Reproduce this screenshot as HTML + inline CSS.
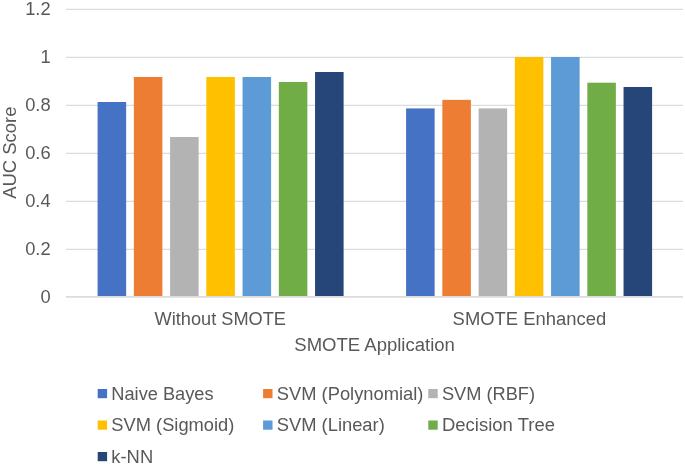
<!DOCTYPE html>
<html><head><meta charset="utf-8"><title>AUC Score chart</title>
<style>
html,body{margin:0;padding:0;background:#fff;overflow:hidden}
svg{display:block;will-change:transform}
text{font-family:"Liberation Sans",Arial,sans-serif;font-size:18.667px;fill:#595959;}
</style></head><body>
<svg width="685" height="464" viewBox="0 0 685 464">
<defs><filter id="soft" x="-2%" y="-2%" width="104%" height="104%"><feGaussianBlur stdDeviation="0.35"/></filter></defs>
<g filter="url(#soft)">

<line x1="66.0" x2="683.0" y1="249.4" y2="249.4" stroke="#DCDCDC" stroke-width="1.1"/>
<line x1="66.0" x2="683.0" y1="201.4" y2="201.4" stroke="#DCDCDC" stroke-width="1.1"/>
<line x1="66.0" x2="683.0" y1="153.4" y2="153.4" stroke="#DCDCDC" stroke-width="1.1"/>
<line x1="66.0" x2="683.0" y1="105.4" y2="105.4" stroke="#DCDCDC" stroke-width="1.1"/>
<line x1="66.0" x2="683.0" y1="57.4" y2="57.4" stroke="#DCDCDC" stroke-width="1.1"/>
<line x1="66.0" x2="683.0" y1="9.4" y2="9.4" stroke="#DCDCDC" stroke-width="1.1"/>
<rect x="97.60" y="102.00" width="28.54" height="194.40" fill="#4472C4"/>
<rect x="133.84" y="76.99" width="28.54" height="219.41" fill="#ED7D31"/>
<rect x="170.09" y="136.99" width="28.54" height="159.41" fill="#B3B3B3"/>
<rect x="206.33" y="76.99" width="28.54" height="219.41" fill="#FFC000"/>
<rect x="242.57" y="76.99" width="28.54" height="219.41" fill="#5B9BD5"/>
<rect x="278.82" y="82.01" width="28.54" height="214.39" fill="#70AD47"/>
<rect x="315.06" y="72.00" width="28.54" height="224.40" fill="#264478"/>
<rect x="406.10" y="108.43" width="28.54" height="187.97" fill="#4472C4"/>
<rect x="442.34" y="99.86" width="28.54" height="196.54" fill="#ED7D31"/>
<rect x="478.59" y="108.43" width="28.54" height="187.97" fill="#B3B3B3"/>
<rect x="514.83" y="57.00" width="28.54" height="239.40" fill="#FFC000"/>
<rect x="551.07" y="57.00" width="28.54" height="239.40" fill="#5B9BD5"/>
<rect x="587.32" y="82.70" width="28.54" height="213.70" fill="#70AD47"/>
<rect x="623.56" y="87.00" width="28.54" height="209.40" fill="#264478"/>
<line x1="66.0" x2="683.0" y1="296.9" y2="296.9" stroke="#DCDCDC" stroke-width="1.6"/>
<text transform="translate(50.60,303.40) scale(0.98,1)" text-anchor="end">0</text>
<text transform="translate(50.60,255.40) scale(0.98,1)" text-anchor="end">0.2</text>
<text transform="translate(50.60,207.40) scale(0.98,1)" text-anchor="end">0.4</text>
<text transform="translate(50.60,159.40) scale(0.98,1)" text-anchor="end">0.6</text>
<text transform="translate(50.60,111.40) scale(0.98,1)" text-anchor="end">0.8</text>
<text transform="translate(50.60,63.40) scale(0.98,1)" text-anchor="end">1</text>
<text transform="translate(50.60,15.40) scale(0.98,1)" text-anchor="end">1.2</text>
<text transform="translate(16.00,152.70) rotate(-90) scale(0.988,1)" text-anchor="middle">AUC Score</text>
<text transform="translate(220.25,324.70) scale(0.975,1)" text-anchor="middle">Without SMOTE</text>
<text transform="translate(529.40,324.70) scale(0.987,1)" text-anchor="middle">SMOTE Enhanced</text>
<text transform="translate(374.60,351.00) scale(0.993,1)" text-anchor="middle">SMOTE Application</text>
<rect x="97.7" y="389" width="9.4" height="9.2" fill="#4472C4"/>
<text transform="translate(111.30,399.80) scale(0.977,1)" text-anchor="start">Naive Bayes</text>
<rect x="263.1" y="389" width="9.4" height="9.2" fill="#ED7D31"/>
<text transform="translate(276.70,399.80) scale(0.983,1)" text-anchor="start">SVM (Polynomial)</text>
<rect x="428.3" y="389" width="9.4" height="9.2" fill="#B3B3B3"/>
<text transform="translate(441.90,399.80) scale(0.977,1)" text-anchor="start">SVM (RBF)</text>
<rect x="97.7" y="420.5" width="9.4" height="9.2" fill="#FFC000"/>
<text transform="translate(111.30,431.30) scale(0.981,1)" text-anchor="start">SVM (Sigmoid)</text>
<rect x="263.1" y="420.5" width="9.4" height="9.2" fill="#5B9BD5"/>
<text transform="translate(276.70,431.30) scale(0.984,1)" text-anchor="start">SVM (Linear)</text>
<rect x="428.3" y="420.5" width="9.4" height="9.2" fill="#70AD47"/>
<text transform="translate(441.90,431.30) scale(0.991,1)" text-anchor="start">Decision Tree</text>
<rect x="97.7" y="452" width="9.4" height="9.2" fill="#264478"/>
<text transform="translate(111.30,462.80) scale(0.985,1)" text-anchor="start">k-NN</text>
</g></svg></body></html>
